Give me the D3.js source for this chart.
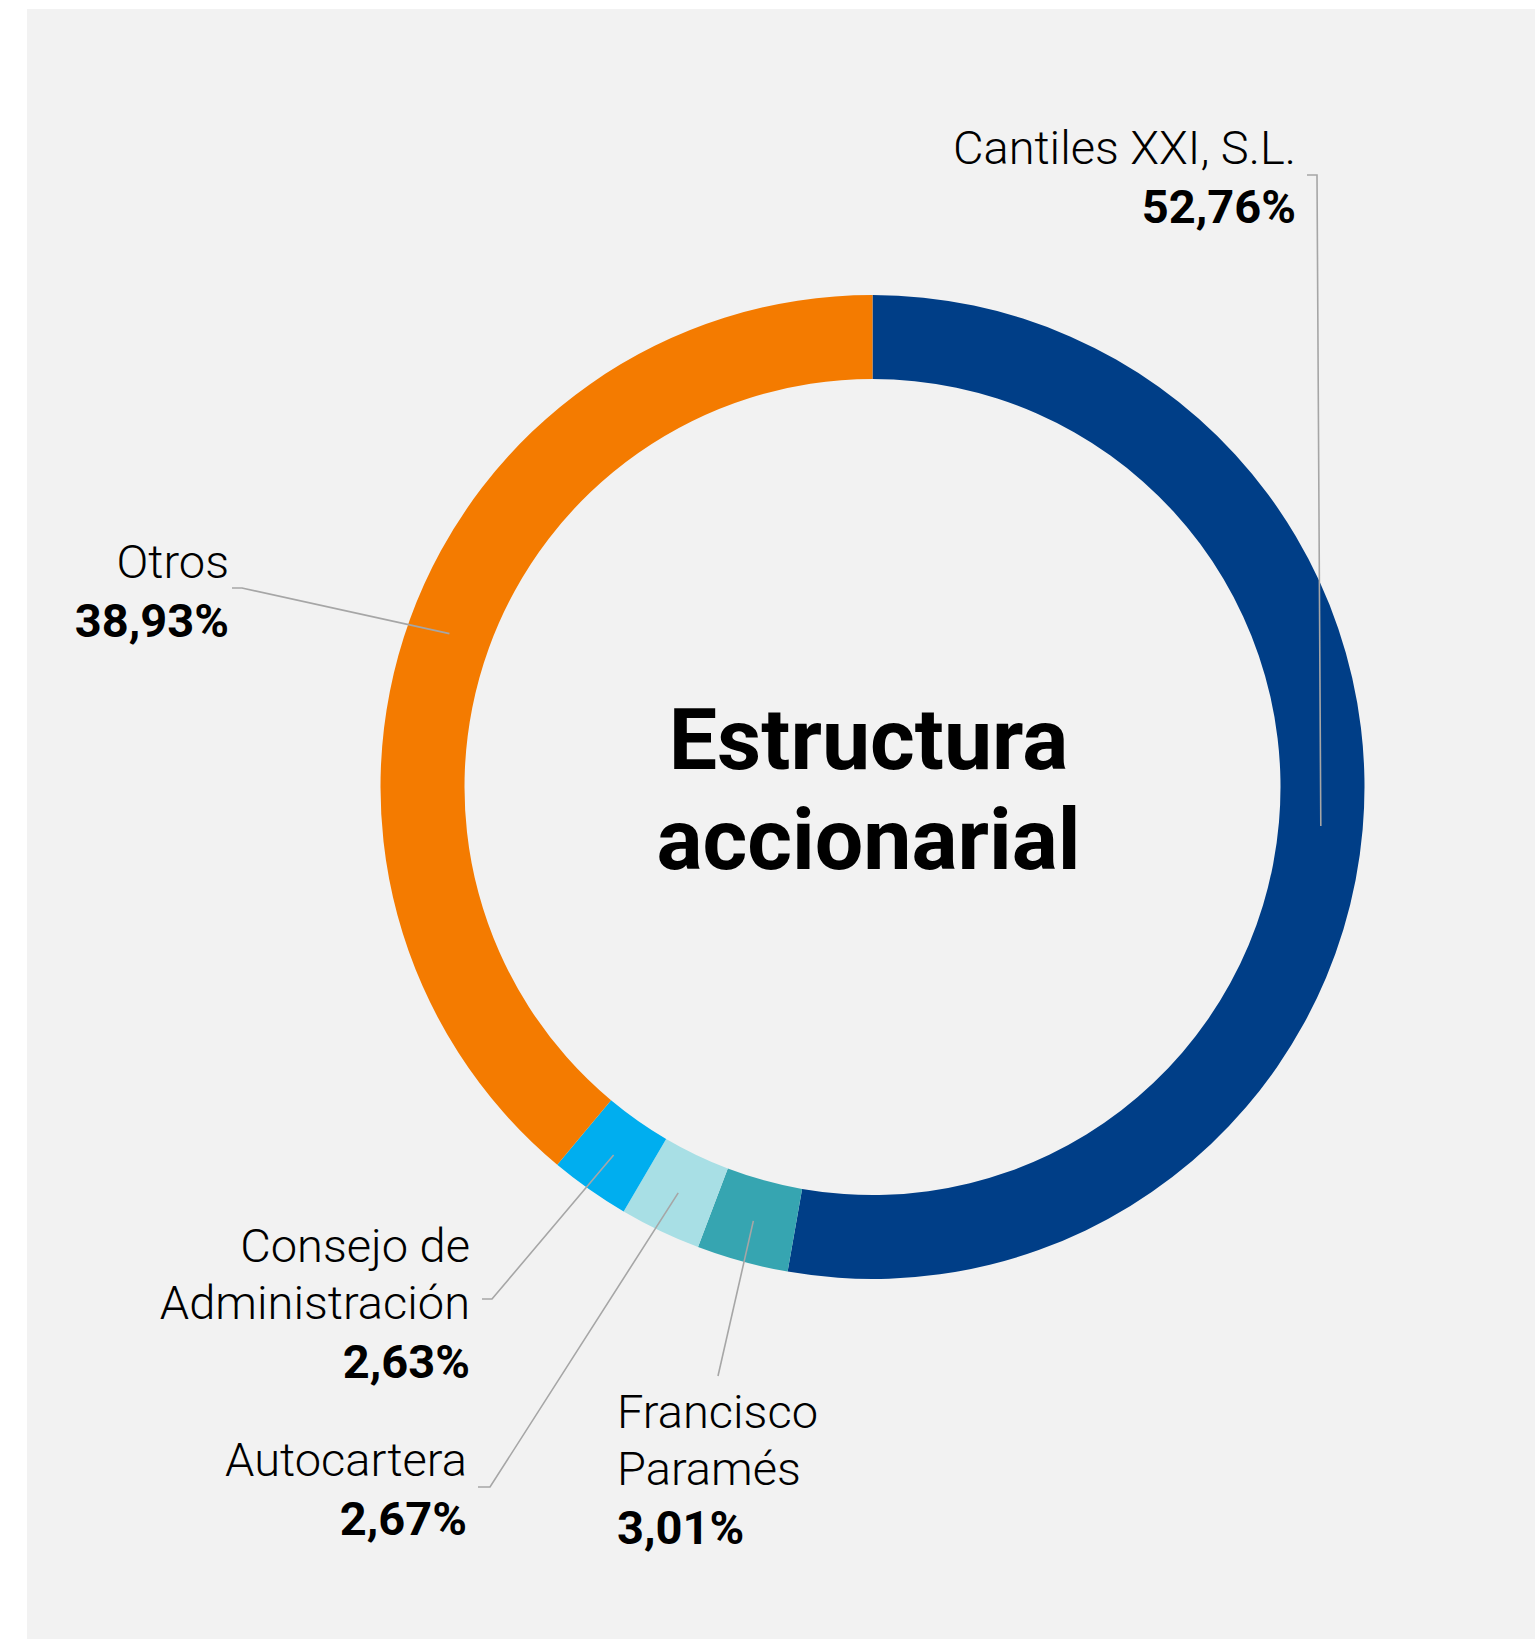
<!DOCTYPE html>
<html>
<head>
<meta charset="utf-8">
<script src="https://cdn.jsdelivr.net/npm/d3@7"></script>
<style>
  body { margin: 0; background: #fff; }
  svg { display: block; }
  text { font-family: Roboto, "Noto Sans", sans-serif; fill: #000; }
</style>
</head>
<body>
<svg width="1535" height="1639"></svg>
<script>
// data (clockwise from 12 o'clock)
var holders = ["Cantiles XXI, S.L.", "Francisco Paramés", "Autocartera", "Consejo de Administración", "Otros"];
var shares = [52.76, 3.01, 2.67, 2.63, 38.93];
var nameLines = [["Cantiles XXI, S.L."], ["Francisco", "Paramés"], ["Autocartera"], ["Consejo de", "Administración"], ["Otros"]];
var colors = ["#003e87", "#36a5b1", "#a8dfe5", "#00aeef", "#f47b00"];
var title = ["Estructura", "accionarial"];

// label placement (layout only)
var labelPos = [
  { x: 1296, y: 164, anchor: "end", elbow: [[1307, 175], [1317, 175]] },
  { x: 617, y: 1428, anchor: "start", elbow: [[718, 1376]] },
  { x: 467, y: 1476, anchor: "end", elbow: [[478, 1487], [490, 1487]] },
  { x: 470, y: 1262, anchor: "end", elbow: [[482, 1299], [492, 1299]] },
  { x: 229, y: 578, anchor: "end", elbow: [[232, 588], [242, 588]] }
];

var fmt = d3.formatLocale({ decimal: ",", thousands: ".", grouping: [3], currency: ["", "€"] }).format(".2f");

var svg = d3.select("svg");
svg.append("rect")
  .attr("x", 27).attr("y", 9)
  .attr("width", 1535 - 27).attr("height", 1639 - 9)
  .attr("fill", "#f2f2f2");

var cx = 872.5, cy = 787, outerR = 492, innerR = 408;
var g = svg.append("g").attr("transform", "translate(" + cx + "," + cy + ")");

var rows = holders.map(function (h, i) { return { name: h, value: shares[i], i: i }; });

var pie = d3.pie().value(function (d) { return d.value; }).sort(null);
var arc = d3.arc().innerRadius(innerR).outerRadius(outerR);
var arcs = pie(rows);

g.selectAll("path.slice")
  .data(arcs)
  .enter()
  .append("path")
  .attr("class", "slice")
  .attr("d", arc)
  .attr("fill", function (d) { return colors[d.data.i]; });

// leader lines end on each slice's centroid
svg.selectAll("path.leader")
  .data(arcs)
  .enter()
  .append("path")
  .attr("class", "leader")
  .attr("d", function (d) {
    var c = arc.centroid(d);
    var pts = labelPos[d.data.i].elbow.concat([[cx + c[0], cy + c[1]]]);
    return d3.line()(pts);
  })
  .attr("fill", "none")
  .attr("stroke", "#a6a6a6")
  .attr("stroke-width", 1.6);

// labels
var lineH = 57;
var labels = svg.selectAll("g.label")
  .data(rows)
  .enter()
  .append("g")
  .attr("class", "label");

labels.each(function (d) {
  var p = labelPos[d.i];
  var sel = d3.select(this);
  nameLines[d.i].forEach(function (t, k) {
    sel.append("text")
      .attr("x", p.x).attr("y", p.y + k * lineH)
      .attr("text-anchor", p.anchor)
      .attr("font-size", 47)
      .attr("font-weight", 300)
      .text(t);
  });
  sel.append("text")
    .attr("x", p.x).attr("y", p.y + nameLines[d.i].length * lineH + 2)
    .attr("text-anchor", p.anchor)
    .attr("font-size", 47)
    .attr("font-weight", 700)
    .text(fmt(d.value) + "%");
});

// centre title
svg.selectAll("text.title")
  .data(title)
  .enter()
  .append("text")
  .attr("class", "title")
  .attr("x", cx - 4)
  .attr("y", function (d, i) { return 769 + i * 100; })
  .attr("text-anchor", "middle")
  .attr("font-size", 86)
  .attr("font-weight", 700)
  .text(function (d) { return d; });
</script>
</body>
</html>
